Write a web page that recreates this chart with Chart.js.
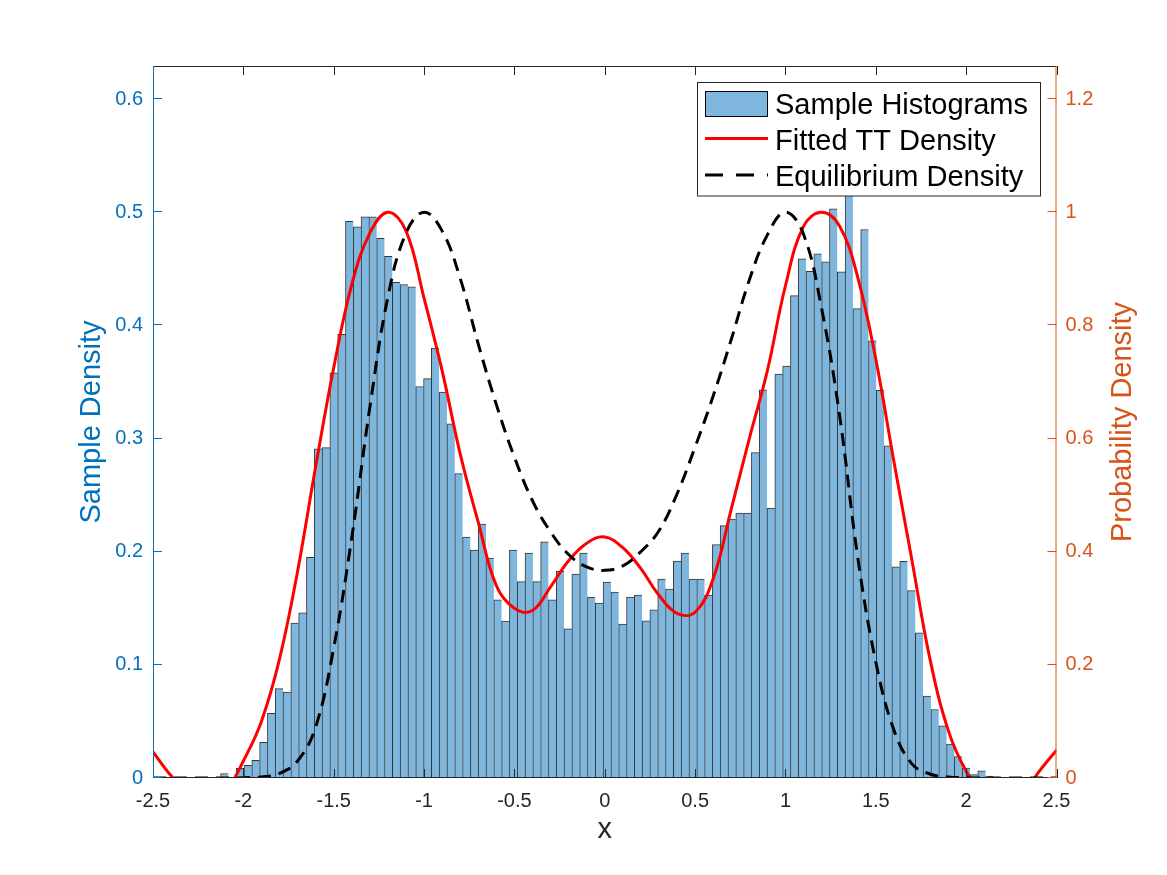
<!DOCTYPE html>
<html>
<head>
<meta charset="utf-8">
<title>Sample histogram vs densities</title>
<script src="https://cdn.jsdelivr.net/npm/chart.js@4.4.1/dist/chart.umd.min.js"></script>
<style>
  html, body { margin: 0; padding: 0; background: #fff; }
  canvas { display: block; }
</style>
</head>
<body>
<canvas id="chart" width="1167" height="875"></canvas>
<script>
'use strict';

// histogram: uniform bins, first edge + width, then density of each bin
var binStart = -2.126;
var binWidth = 0.0432;
var binDensity = [
  0.004, 0, 0.0086, 0.0112, 0.0156, 0.0316, 0.0572, 0.079, 0.076, 0.137,
  0.146, 0.195, 0.291, 0.292, 0.358, 0.392, 0.492, 0.487, 0.496, 0.496,
  0.477, 0.461, 0.438, 0.436, 0.434, 0.346, 0.353, 0.380, 0.341, 0.313,
  0.269, 0.213, 0.2015, 0.2245, 0.1944, 0.1575, 0.1387, 0.2015, 0.1735, 0.1988,
  0.1735, 0.2086, 0.1575, 0.1826, 0.1319, 0.1802, 0.1988, 0.1599, 0.1546, 0.1732,
  0.1643, 0.136, 0.1599, 0.1617, 0.1389, 0.1487, 0.1758, 0.167, 0.1917, 0.1988,
  0.1758, 0.1758, 0.1617, 0.2062, 0.223, 0.2289, 0.2342, 0.2342, 0.2876, 0.343,
  0.2386, 0.357, 0.364, 0.4263, 0.4589, 0.4477, 0.4633, 0.4562, 0.503, 0.4474,
  0.5166, 0.4148, 0.4847, 0.3863, 0.3425, 0.2936, 0.1867, 0.1914, 0.1656, 0.1283,
  0.0723, 0.0605, 0.046, 0.030, 0.019, 0.0088, 0.003, 0.0064, 0.0016
];

// density curves, read every 0.1 along x (right axis)
var curveX = [
  -2.5, -2.4, -2.3, -2.2, -2.1, -2.0, -1.9, -1.8, -1.7, -1.6,
  -1.5, -1.4, -1.3, -1.2, -1.1, -1.0, -0.9, -0.8, -0.7, -0.6,
  -0.5, -0.4, -0.3, -0.2, -0.1, 0, 0.1, 0.2, 0.3, 0.4,
  0.5, 0.6, 0.7, 0.8, 0.9, 1.0, 1.1, 1.2, 1.3, 1.4,
  1.5, 1.6, 1.7, 1.8, 1.9, 2.0, 2.1, 2.2, 2.3, 2.4, 2.5
];
var ttDensity = [
  0.046, 0.004, -0.03, -0.05, -0.025, 0.03, 0.10, 0.21, 0.365, 0.55,
  0.725, 0.872, 0.963, 1.0, 0.967, 0.848, 0.72, 0.573, 0.452, 0.34,
  0.30, 0.296, 0.338, 0.384, 0.415, 0.426, 0.407, 0.37, 0.323, 0.291,
  0.293, 0.352, 0.475, 0.60, 0.72, 0.87, 0.975, 1.0, 0.975, 0.885,
  0.74, 0.56, 0.385, 0.21, 0.085, 0.012, -0.03, -0.05, -0.035, 0.01, 0.049
];
var eqDensity = [
  0, 0, 0, 0, 0, 0.0005, 0.002, 0.008, 0.03, 0.09,
  0.23, 0.425, 0.655, 0.85, 0.963, 1.0, 0.967, 0.883, 0.767, 0.66,
  0.567, 0.49, 0.435, 0.395, 0.373, 0.367, 0.375, 0.40, 0.437, 0.502,
  0.585, 0.675, 0.775, 0.88, 0.96, 1.0, 0.961, 0.83, 0.64, 0.39,
  0.205, 0.085, 0.025, 0.007, 0.002, 0.0005, 0, 0, 0, 0, 0
];

// axes
var xTicks = [-2.5, -2, -1.5, -1, -0.5, 0, 0.5, 1, 1.5, 2, 2.5];
var xTickLabels = ['-2.5', '-2', '-1.5', '-1', '-0.5', '0', '0.5', '1', '1.5', '2', '2.5'];
var leftTicks = [0, 0.1, 0.2, 0.3, 0.4, 0.5, 0.6];
var leftTickLabels = ['0', '0.1', '0.2', '0.3', '0.4', '0.5', '0.6'];
var rightTicks = [0, 0.2, 0.4, 0.6, 0.8, 1.0, 1.2];
var rightTickLabels = ['0', '0.2', '0.4', '0.6', '0.8', '1', '1.2'];

var FONT = "'Liberation Sans', Arial, Helvetica, sans-serif";
var BLUE = '#0072BD';
var ORANGE = '#D95319';
var AXIS = '#262626';
var BAR_FILL = 'rgb(126,182,221)';

var histData = binDensity.map(function (d, i) {
  return { x: binStart + binWidth * (i + 0.5), y: d };
});
var ttData = curveX.map(function (x, i) { return { x: x, y: ttDensity[i] }; });
var eqData = curveX.map(function (x, i) { return { x: x, y: eqDensity[i] }; });

// MATLAB-like frame: inward ticks, coloured y axes, rotated titles, legend box
var matlabFrame = {
  id: 'matlabFrame',
  afterDatasetsDraw: function (chart) {
    var ctx = chart.ctx;
    var a = chart.chartArea;
    var sx = chart.scales.x, sy = chart.scales.y, sy2 = chart.scales.y2;
    var tl = 9;
    ctx.save();
    ctx.lineWidth = 1;

    // top / bottom lines + x ticks
    ctx.strokeStyle = AXIS;
    ctx.beginPath();
    ctx.moveTo(a.left, a.top + 0.5); ctx.lineTo(a.right, a.top + 0.5);
    ctx.moveTo(a.left, a.bottom - 0.5); ctx.lineTo(a.right, a.bottom - 0.5);
    xTicks.forEach(function (v) {
      var px = Math.round(sx.getPixelForValue(v)) + 0.5;
      ctx.moveTo(px, a.bottom); ctx.lineTo(px, a.bottom - tl);
      ctx.moveTo(px, a.top); ctx.lineTo(px, a.top + tl);
    });
    ctx.stroke();

    // left axis
    ctx.strokeStyle = BLUE;
    ctx.beginPath();
    ctx.moveTo(a.left + 0.5, a.top); ctx.lineTo(a.left + 0.5, a.bottom);
    leftTicks.forEach(function (v) {
      var py = Math.round(sy.getPixelForValue(v)) - 0.5;
      ctx.moveTo(a.left, py); ctx.lineTo(a.left + tl, py);
    });
    ctx.stroke();

    // right axis
    ctx.strokeStyle = ORANGE;
    ctx.beginPath();
    ctx.moveTo(a.right - 0.5, a.top); ctx.lineTo(a.right - 0.5, a.bottom);
    rightTicks.forEach(function (v) {
      var py = Math.round(sy2.getPixelForValue(v)) - 0.5;
      ctx.moveTo(a.right, py); ctx.lineTo(a.right - tl, py);
    });
    ctx.stroke();

    // axis titles
    ctx.font = '29px ' + FONT;
    ctx.textAlign = 'center';
    ctx.textBaseline = 'middle';
    ctx.fillStyle = AXIS;
    ctx.fillText('x', (a.left + a.right) / 2, 830);

    ctx.save();
    ctx.translate(92, (a.top + a.bottom) / 2);
    ctx.rotate(-Math.PI / 2);
    ctx.fillStyle = BLUE;
    ctx.fillText('Sample Density', 0, 0);
    ctx.restore();

    ctx.save();
    ctx.translate(1123, (a.top + a.bottom) / 2);
    ctx.rotate(-Math.PI / 2);
    ctx.fillStyle = ORANGE;
    ctx.fillText('Probability Density', 0, 0);
    ctx.restore();

    // legend
    var lx = 697.5, ly = 82.5, lw = 343, lh = 113.5;
    ctx.fillStyle = '#fff';
    ctx.fillRect(lx, ly, lw, lh);
    ctx.strokeStyle = AXIS;
    ctx.strokeRect(lx, ly, lw, lh);

    ctx.fillStyle = BAR_FILL;
    ctx.fillRect(705.5, 91.5, 62, 25);
    ctx.strokeStyle = '#000';
    ctx.strokeRect(705.5, 91.5, 62, 25);

    ctx.lineWidth = 3;
    ctx.strokeStyle = '#ff0000';
    ctx.beginPath(); ctx.moveTo(705, 138.5); ctx.lineTo(768, 138.5); ctx.stroke();

    ctx.strokeStyle = '#000';
    ctx.setLineDash([18, 13]);
    ctx.beginPath(); ctx.moveTo(705, 175); ctx.lineTo(768, 175); ctx.stroke();
    ctx.setLineDash([]);

    ctx.fillStyle = '#000';
    ctx.textAlign = 'left';
    ctx.textBaseline = 'alphabetic';
    ctx.fillText('Sample Histograms', 775, 113.5);
    ctx.fillText('Fitted TT Density', 775, 150);
    ctx.fillText('Equilibrium Density', 775, 185.5);

    ctx.restore();
  }
};

function fixedTicks(values) {
  return function (scale) {
    scale.ticks = values.map(function (v) { return { value: v }; });
  };
}

var ctx = document.getElementById('chart').getContext('2d');
var chart = new Chart(ctx, {
  type: 'bar',
  data: {
    datasets: [
      {
        type: 'line',
        label: 'Fitted TT Density',
        data: ttData,
        yAxisID: 'y2',
        borderColor: '#ff0000',
        borderWidth: 3,
        pointRadius: 0,
        tension: 0.4,
        clip: 0,
        order: 1
      },
      {
        type: 'line',
        label: 'Equilibrium Density',
        data: eqData,
        yAxisID: 'y2',
        borderColor: '#000000',
        borderWidth: 3,
        borderDash: [13, 8],
        pointRadius: 0,
        tension: 0.4,
        clip: 0,
        order: 0
      },
      {
        type: 'bar',
        label: 'Sample Histograms',
        data: histData,
        yAxisID: 'y',
        backgroundColor: BAR_FILL,
        borderColor: 'rgba(20,20,20,0.85)',
        borderWidth: { left: 1, top: 1, right: 0, bottom: 0 },
        borderSkipped: false,
        barPercentage: 1,
        categoryPercentage: 1,
        order: 2
      }
    ]
  },
  options: {
    responsive: false,
    devicePixelRatio: 1,
    animation: false,
    layout: { padding: { top: 66, left: 0, right: 0, bottom: 0 } },
    plugins: {
      legend: { display: false },
      tooltip: { enabled: false }
    },
    scales: {
      x: {
        type: 'linear',
        position: 'bottom',
        min: -2.5,
        max: 2.5,
        offset: false,
        grid: { display: false, drawTicks: false },
        border: { display: false },
        afterBuildTicks: fixedTicks(xTicks),
        afterFit: function (s) { s.height = 97; },
        ticks: {
          autoSkip: false,
          maxRotation: 0,
          padding: 11,
          color: AXIS,
          font: { family: FONT, size: 20 },
          callback: function (v, i) { return xTickLabels[i]; }
        }
      },
      y: {
        type: 'linear',
        position: 'left',
        min: 0,
        max: 0.6292,
        grid: { display: false, drawTicks: false },
        border: { display: false },
        afterBuildTicks: fixedTicks(leftTicks),
        afterFit: function (s) { s.width = 153; },
        ticks: {
          padding: 10,
          color: BLUE,
          font: { family: FONT, size: 20 },
          callback: function (v, i) { return leftTickLabels[i]; }
        }
      },
      y2: {
        type: 'linear',
        position: 'right',
        min: 0,
        max: 1.2584,
        grid: { display: false, drawTicks: false },
        border: { display: false },
        afterBuildTicks: fixedTicks(rightTicks),
        afterFit: function (s) { s.width = 110.5; },
        ticks: {
          padding: 9,
          color: ORANGE,
          font: { family: FONT, size: 20 },
          callback: function (v, i) { return rightTickLabels[i]; }
        }
      }
    }
  },
  plugins: [matlabFrame]
});
</script>
</body>
</html>
